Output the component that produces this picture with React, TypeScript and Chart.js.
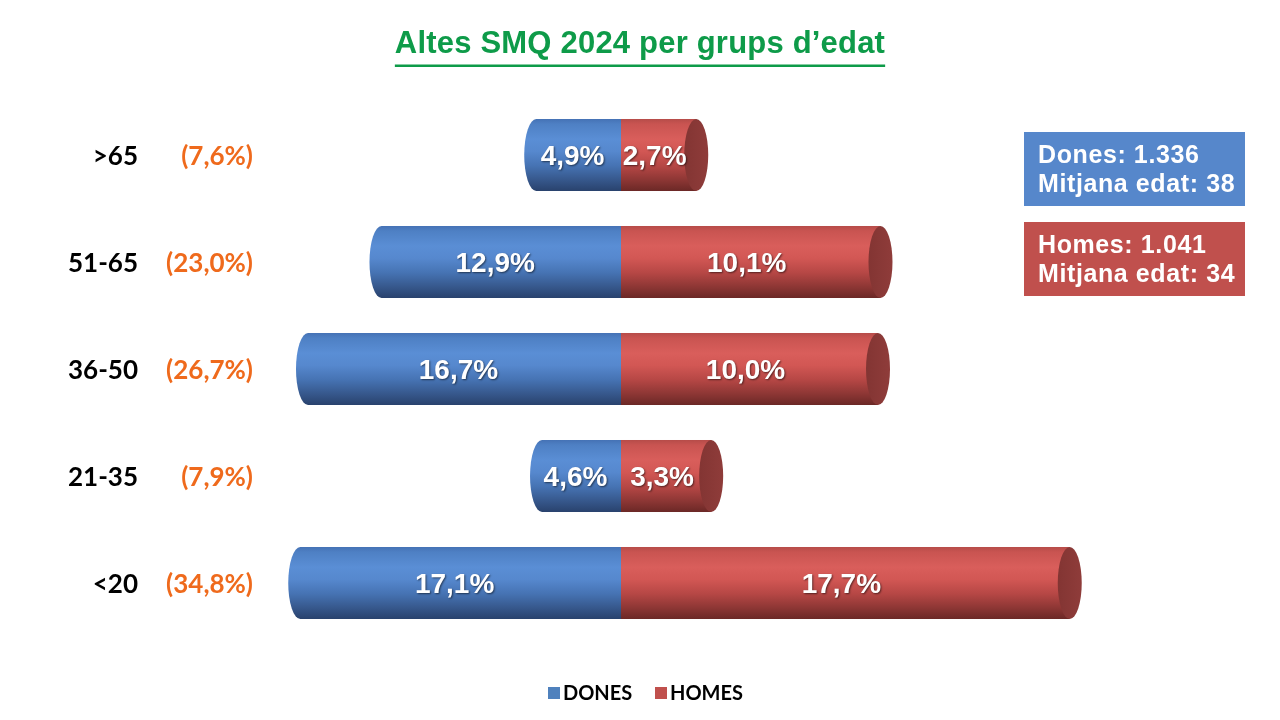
import { useEffect, useRef } from 'react';
import { Chart, registerables } from 'chart.js';

Chart.register(...registerables);

// Age groups, top to bottom
const ageGroups = ['>65', '51-65', '36-50', '21-35', '<20'];
// Share of all discharges (%) by sex
const donesPct = [4.9, 12.9, 16.7, 4.6, 17.1];
const homesPct = [2.7, 10.1, 10.0, 3.3, 17.7];
const seriesLabels = ['DONES', 'HOMES'];
const seriesColors = ['#4F81BD', '#C0504D'];

// Summary boxes
const summaryLines = [
  ['Dones: 1.336', 'Mitjana edat: 38'],
  ['Homes: 1.041', 'Mitjana edat: 34'],
];
const summaryColors = ['#5687CB', '#C0504D'];

const titleText = 'Altes SMQ 2024 per grups d\u2019edat';

const fmt = (v: number) => v.toFixed(1).replace('.', ',') + '%';

const ARIAL = '"Liberation Sans", Arial, sans-serif';
const CALIBRI = 'Lato, "Open Sans", sans-serif';

const blueStops: [number, string][] = [
  [0, '#4572B5'],
  [0.07, '#4E80C4'],
  [0.28, '#5A8ED5'],
  [0.45, '#5688CE'],
  [0.65, '#4673B3'],
  [0.85, '#36578B'],
  [1, '#29426D'],
];
const redStops: [number, string][] = [
  [0, '#B64C49'],
  [0.07, '#C95451'],
  [0.28, '#D95E5B'],
  [0.45, '#D25754'],
  [0.65, '#B64745'],
  [0.85, '#8C3634'],
  [1, '#6B2826'],
];

const RX = 12;

function vGradient(ctx: CanvasRenderingContext2D, top: number, bottom: number, stops: [number, string][]) {
  const g = ctx.createLinearGradient(0, top, 0, bottom);
  stops.forEach(([o, c]) => g.addColorStop(o, c));
  return g;
}

const cylinderPlugin = {
  id: 'cylinders',
  afterDatasetsDraw(chart: any) {
    const ctx: CanvasRenderingContext2D = chart.ctx;
    const dMeta = chart.getDatasetMeta(0);
    const hMeta = chart.getDatasetMeta(1);
    ctx.save();

    const rows: { yc: number; dLeft: number; base: number; capC: number; h: number }[] = [];

    dMeta.data.forEach((el: any, i: number) => {
      const { x, y, base, height } = el.getProps(['x', 'y', 'base', 'height'], true);
      const top = y - height / 2;
      const bottom = y + height / 2;
      const capC = x + RX - 2;
      ctx.beginPath();
      ctx.moveTo(base, top);
      ctx.lineTo(capC, top);
      ctx.ellipse(capC, y, RX, height / 2, 0, -Math.PI / 2, Math.PI / 2, true);
      ctx.lineTo(base, bottom);
      ctx.closePath();
      ctx.fillStyle = vGradient(ctx, top, bottom, blueStops);
      ctx.fill();
      rows[i] = { yc: y, dLeft: x - 2, base, capC: 0, h: height };
    });

    hMeta.data.forEach((el: any, i: number) => {
      const { x, y, base, height } = el.getProps(['x', 'y', 'base', 'height'], true);
      const top = y - height / 2;
      const bottom = y + height / 2;
      const capC = x + 8;
      ctx.fillStyle = vGradient(ctx, top, bottom, redStops);
      ctx.fillRect(base, top, capC - base, height);
      // end face of the cylinder
      ctx.beginPath();
      ctx.ellipse(capC, y, RX, height / 2, 0, 0, Math.PI * 2);
      const cg = ctx.createLinearGradient(capC - RX, 0, capC + RX, 0);
      cg.addColorStop(0, '#833533');
      cg.addColorStop(1, '#8F3C3A');
      ctx.fillStyle = cg;
      ctx.fill();
      rows[i].capC = capC;
    });

    // value labels inside the bars
    ctx.font = `bold 28px ${ARIAL}`;
    ctx.textAlign = 'center';
    ctx.textBaseline = 'middle';
    ctx.shadowColor = 'rgba(0,0,0,0.55)';
    ctx.shadowOffsetX = 1;
    ctx.shadowOffsetY = 1;
    ctx.shadowBlur = 2;
    ctx.fillStyle = '#FFFFFF';
    rows.forEach((r, i) => {
      ctx.fillText(fmt(donesPct[i]), (r.dLeft + r.base) / 2, r.yc + 2);
      ctx.fillText(fmt(homesPct[i]), (r.base + r.capC) / 2 - 4, r.yc + 2);
    });
    ctx.restore();
  },
};

const decorPlugin = {
  id: 'decor',
  afterDraw(chart: any) {
    const ctx: any = chart.ctx;
    const yScale = chart.scales.y;
    ctx.save();

    // title with underline
    ctx.font = `bold 31px ${ARIAL}`;
    ctx.letterSpacing = '0.2px';
    ctx.fillStyle = '#0E9B49';
    ctx.textAlign = 'center';
    ctx.textBaseline = 'alphabetic';
    ctx.fillText(titleText, 640, 53);
    const tw = ctx.measureText(titleText).width;
    ctx.fillRect(640 - tw / 2, 64.5, tw, 2.5);
    ctx.letterSpacing = '0px';

    // row labels and group totals
    ageGroups.forEach((g, i) => {
      const yc = yScale.getPixelForValue(i);
      ctx.textBaseline = 'middle';
      ctx.textAlign = 'right';
      ctx.font = `bold 26px ${CALIBRI}`;
      ctx.fillStyle = '#000000';
      ctx.fillText(g, 138, yc + 2);
      ctx.fillStyle = '#EF6A1C';
      ctx.fillText('(' + fmt(donesPct[i] + homesPct[i]) + ')', 253, yc + 2);
    });

    // legend
    ctx.font = `bold 20px ${CALIBRI}`;
    ctx.textAlign = 'left';
    ctx.textBaseline = 'middle';
    const legendX = [548, 655];
    seriesLabels.forEach((lab, i) => {
      ctx.fillStyle = seriesColors[i];
      ctx.fillRect(legendX[i], 687, 12, 12);
      ctx.fillStyle = '#000000';
      ctx.fillText(lab, legendX[i] + 15, 694);
    });

    // summary boxes
    const boxTops = [132, 222];
    summaryLines.forEach((lines, i) => {
      ctx.fillStyle = summaryColors[i];
      ctx.fillRect(1024, boxTops[i], 221, 74);
      ctx.fillStyle = '#FFFFFF';
      ctx.font = `bold 25px ${ARIAL}`;
      ctx.letterSpacing = '0.6px';
      ctx.textAlign = 'left';
      ctx.textBaseline = 'alphabetic';
      ctx.fillText(lines[0], 1038, boxTops[i] + 31);
      ctx.fillText(lines[1], 1038, boxTops[i] + 60);
      ctx.letterSpacing = '0px';
    });

    ctx.restore();
  },
};

export default function App() {
  const canvasRef = useRef<HTMLCanvasElement | null>(null);

  useEffect(() => {
    const canvas = canvasRef.current;
    if (!canvas) return;
    const chart = new Chart(canvas, {
      type: 'bar',
      data: {
        labels: ageGroups,
        datasets: [
          {
            label: seriesLabels[0],
            data: donesPct,
            xAxisID: 'xD',
            grouped: false,
            backgroundColor: 'rgba(0,0,0,0)',
            borderWidth: 0,
            categoryPercentage: 1,
            barPercentage: 0.673,
          },
          {
            label: seriesLabels[1],
            data: homesPct,
            xAxisID: 'xH',
            grouped: false,
            backgroundColor: 'rgba(0,0,0,0)',
            borderWidth: 0,
            categoryPercentage: 1,
            barPercentage: 0.673,
          },
        ],
      },
      options: {
        indexAxis: 'y',
        responsive: false,
        devicePixelRatio: 1,
        animation: false,
        layout: { padding: { left: 121, right: 159, top: 101.5, bottom: 83.5 } },
        plugins: {
          legend: { display: false },
          title: { display: false },
          tooltip: { enabled: false },
        },
        scales: {
          y: { type: 'category', display: false, offset: true },
          // women grow to the left, men to the right, from a shared zero
          xD: { type: 'linear', axis: 'x', display: false, min: -25.85, max: 25.85, reverse: true },
          xH: { type: 'linear', axis: 'x', display: false, min: -20.08, max: 20.08 },
        },
      } as any,
      plugins: [cylinderPlugin, decorPlugin],
    });
    return () => chart.destroy();
  }, []);

  return (
    <div style={{ position: 'fixed', left: 0, top: 0, width: 1280, height: 720, background: '#FFFFFF' }}>
      <canvas ref={canvasRef} width={1280} height={720} style={{ display: 'block' }} />
    </div>
  );
}
